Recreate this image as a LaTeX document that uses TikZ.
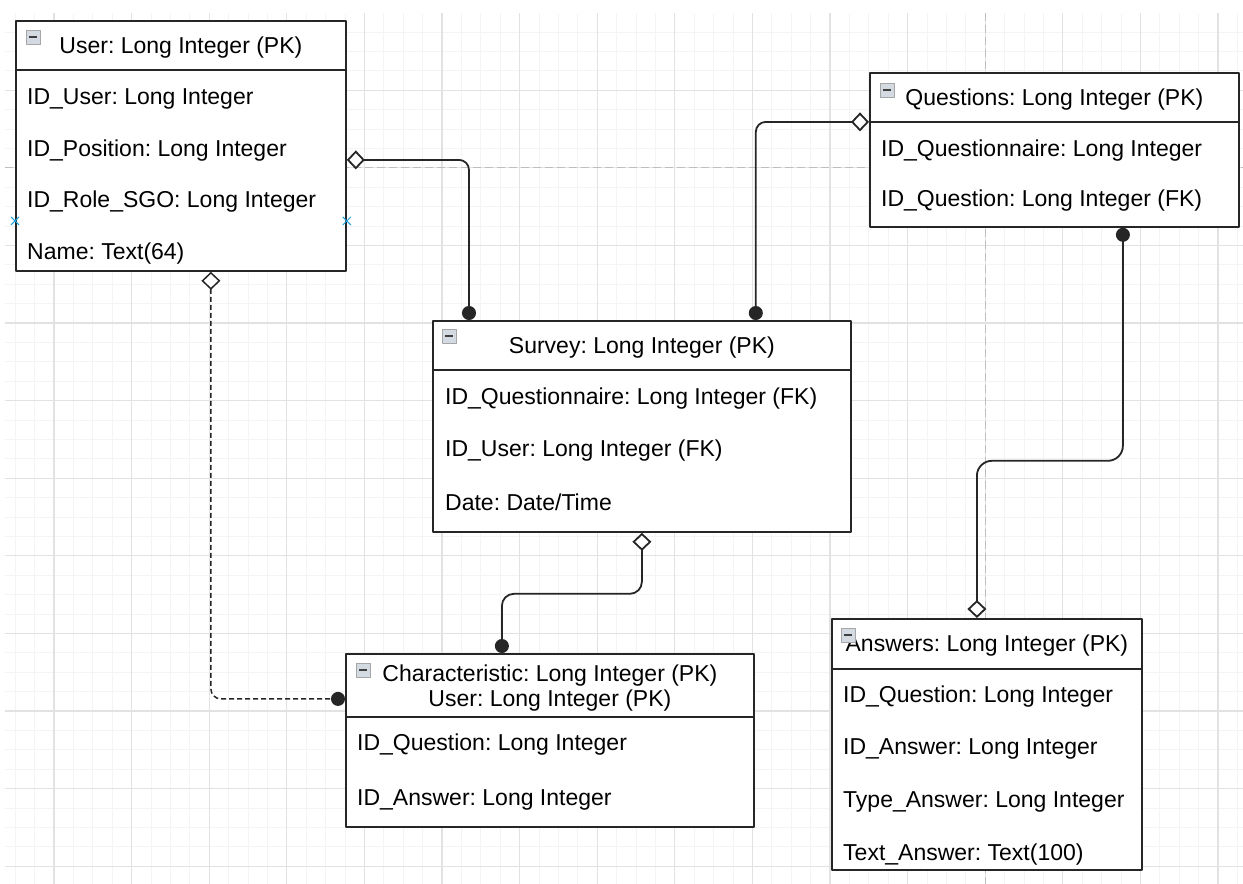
\documentclass[tikz,border=0pt]{standalone}
\usepackage{fontspec}
\setmainfont{Liberation Sans}
\usetikzlibrary{arrows.meta, positioning, calc}
\definecolor{gridmajor}{RGB}{226,226,226}
\definecolor{gridminor}{RGB}{244,244,244}
\definecolor{pagebreak}{RGB}{190,190,190}
\definecolor{pinblue}{RGB}{30,160,220}
\definecolor{iconfill}{RGB}{212,218,226}
\tikzset{font=\fontsize{23}{25}\selectfont,
  odia/.tip={Diamond[fill=white,length=18pt,width=19pt]},
  fdot/.tip={Circle[length=14pt]}}
\frenchspacing

\begin{document}
\begin{tikzpicture}[x=1pt,y=-1pt,line join=round]
\tikzstyle{table}=[draw=black!85,line width=1.8pt,fill=white,inner sep=0pt,anchor=north west]
\tikzstyle{sep}=[draw=black!85,line width=1.8pt]
\tikzstyle{head}=[inner sep=0pt,align=center]
\tikzstyle{row}=[inner sep=0pt,anchor=west]
\tikzstyle{icon}=[draw=gray!70,fill=iconfill,line width=0.8pt,minimum size=14pt,inner sep=0pt,
  path picture={\draw[black!75,line width=1.6pt] ([xshift=3pt]path picture bounding box.west)
    -- ([xshift=-3pt]path picture bounding box.east);}]
\tikzstyle{rel}=[line width=1.8pt,black!85,rounded corners=10pt]

\useasboundingbox (0,0) rectangle (1243,884);

% background grid
\begin{scope}
\clip (5,13) rectangle (1243,884);
\foreach \k in {0,...,63} \draw[gridminor,line width=1pt] ({15.2+19.4*\k},13) -- ++(0,871);
\foreach \k in {0,...,45} \draw[gridminor,line width=1pt] (5,{12.6+19.4*\k}) -- ++(1238,0);
\foreach \k in {0,...,15} \draw[gridmajor,line width=1.2pt] ({54+77.6*\k},13) -- ++(0,871);
\foreach \k in {0,...,11} \draw[gridmajor,line width=1.2pt] (5,{12.6+77.6*\k}) -- ++(1238,0);
\draw[pagebreak,line width=1pt,dash pattern=on 8pt off 4pt] (985.2,13) -- ++(0,871);
\draw[pagebreak,line width=1pt,dash pattern=on 8pt off 4pt] (5,167.8) -- ++(1238,0);
\end{scope}

% User
\node[table,minimum width=330pt,minimum height=250pt] (user) at (15,20) {};
\draw[sep] ([yshift=-50pt]user.north west) -- ([yshift=-50pt]user.north east);
\node[icon] (userIcon) at ([shift={(18pt,-17pt)}]user.north west) {};
\node[head] (userHead) at ([yshift=-28pt]user.north) {User: Long Integer (PK)};
\foreach \t [count=\i] in {ID\_User: Long Integer, ID\_Position: Long Integer,
    ID\_Role\_SGO: Long Integer, Name: Text(64)}
  \node[row] (user\i) at ([shift={(12pt,{-79pt-51.5pt*(\i-1)})}]user.north west) {\t};
\foreach \side in {west,east}
  \draw[pinblue,line width=1pt] ([yshift=-75pt]user.\side) +(-4,-4) -- +(4,4) +(-4,4) -- +(4,-4);

% Survey
\node[table,minimum width=418pt,minimum height=211pt] (survey) at (432,320) {};
\draw[sep] ([yshift=-50pt]survey.north west) -- ([yshift=-50pt]survey.north east);
\node[icon] (surveyIcon) at ([shift={(17pt,-16pt)}]survey.north west) {};
\node[head] (surveyHead) at ([yshift=-28pt]survey.north) {Survey: Long Integer (PK)};
\foreach \t [count=\i] in {ID\_Questionnaire: Long Integer (FK), ID\_User: Long Integer (FK),
    Date: Date/Time}
  \node[row] (survey\i) at ([shift={(13pt,{-78.5pt-52pt*(\i-1)})}]survey.north west) {\t};

% Questions
\node[table,minimum width=369pt,minimum height=154pt] (questions) at (869,72) {};
\draw[sep] ([yshift=-50pt]questions.north west) -- ([yshift=-50pt]questions.north east);
\node[icon] (questionsIcon) at ([shift={(18pt,-18pt)}]questions.north west) {};
\node[head] (questionsHead) at ([yshift=-28pt]questions.north) {Questions: Long Integer (PK)};
\foreach \t [count=\i] in {ID\_Questionnaire: Long Integer, ID\_Question: Long Integer (FK)}
  \node[row] (questions\i) at ([shift={(12pt,{-79pt-50pt*(\i-1)})}]questions.north west) {\t};

% Characteristic
\node[table,minimum width=408pt,minimum height=173pt] (char) at (345,653) {};
\draw[sep] ([yshift=-64pt]char.north west) -- ([yshift=-64pt]char.north east);
\node[icon] (charIcon) at ([shift={(18pt,-17pt)}]char.north west) {};
\node[head] (charHead) at ([yshift=-35pt]char.north)
  {Characteristic: Long Integer (PK)\\User: Long Integer (PK)};
\foreach \t [count=\i] in {ID\_Question: Long Integer, ID\_Answer: Long Integer}
  \node[row] (char\i) at ([shift={(12pt,{-92pt-55pt*(\i-1)})}]char.north west) {\t};

% Answers
\node[table,minimum width=310pt,minimum height=251pt] (answers) at (831,618) {};
\draw[sep] ([yshift=-51pt]answers.north west) -- ([yshift=-51pt]answers.north east);
\node[head] (answersHead) at ([yshift=-28pt]answers.north) {Answers: Long Integer (PK)};
\node[icon] (answersIcon) at ([shift={(17pt,-17pt)}]answers.north west) {};
\foreach \t [count=\i] in {ID\_Question: Long Integer, ID\_Answer: Long Integer,
    Type\_Answer: Long Integer, Text\_Answer: Text(100)}
  \node[row] (answers\i) at ([shift={(12pt,{-78.5pt-52.7pt*(\i-1)})}]answers.north west) {\t};

% relations
\draw[rel,odia-fdot] ([yshift=-14pt]user.east) -| ([xshift=37pt]survey.north west);
\draw[rel,odia-fdot] ([yshift=28pt]questions.west) -| ([xshift=-96pt]survey.north east);
\draw[rel,fdot-odia,rounded corners=15pt] ([xshift=68.5pt]questions.south) -- ++(0,233)
  -| ([xshift=-10pt]answers.north);
\draw[rel,odia-fdot,rounded corners=12pt] (survey.south) -- ++(0,61) -| ([xshift=-48pt]char.north);
\draw[rel,odia-fdot,line width=1.5pt,dash pattern=on 5pt off 3pt]
  ([xshift=30pt]user.south) |- ([yshift=41.5pt]char.west);

\end{tikzpicture}
\end{document}
